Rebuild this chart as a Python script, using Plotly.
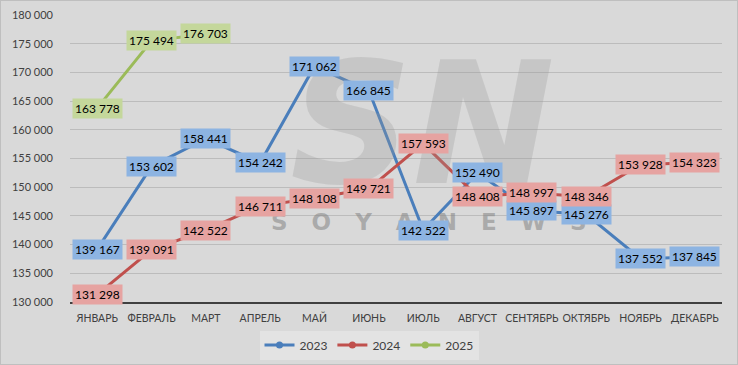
import plotly.graph_objects as go

months = ["ЯНВАРЬ", "ФЕВРАЛЬ", "МАРТ", "АПРЕЛЬ", "МАЙ", "ИЮНЬ", "ИЮЛЬ",
          "АВГУСТ", "СЕНТЯБРЬ", "ОКТЯБРЬ", "НОЯБРЬ", "ДЕКАБРЬ"]
v2023 = [139167, 153602, 158441, 154242, 171062, 166845, 142522,
         152490, 145897, 145276, 137552, 137845]
v2024 = [131298, 139091, 142522, 146711, 148108, 149721, 157593,
         148408, 148997, 148346, 153928, 154323]
v2025 = [163778, 175494, 176703]

series = [
    ("2023", v2023, "#4a7ebb", "#8db4e2"),
    ("2024", v2024, "#c0504d", "#e6a3a1"),
    ("2025", v2025, "#9bbb59", "#c4d79b"),
]

FONT = "Lato, 'Open Sans', sans-serif"

fig = go.Figure()
annotations = []

# watermark
annotations.append(dict(xref="paper", yref="paper", x=0.54, y=0.62, text="<i><b>SN</b></i>",
                        showarrow=False, font=dict(size=170, color="rgba(150,150,150,0.28)",
                                                   family="DejaVu Sans"),
                        xanchor="center", yanchor="middle"))
annotations.append(dict(xref="paper", yref="paper", x=0.55, y=0.28,
                        text="S   O   Y   A   N   E   W   S", showarrow=False,
                        font=dict(size=23, color="rgba(130,130,130,0.55)", family="DejaVu Sans",
                                  weight="bold"),
                        xanchor="center", yanchor="middle"))

for name, vals, col, lab in series:
    x = months[:len(vals)]
    fig.add_trace(go.Scatter(
        x=x, y=vals, name=name, mode="lines+markers",
        line=dict(color=col, width=3),
        marker=dict(color=col, size=14),
        hoverinfo="skip", showlegend=False,
    ))
    for xi, yi in zip(x, vals):
        annotations.append(dict(
            x=xi, y=yi, text=f"{yi:,}".replace(",", " "), showarrow=False,
            bgcolor=lab, borderpad=2,
            font=dict(size=12, color="#000000", family=FONT),
            xanchor="center", yanchor="middle",
        ))

# legend-only entries with small markers
for name, vals, col, lab in series:
    fig.add_trace(go.Scatter(
        x=[None], y=[None], name=name, mode="lines+markers",
        line=dict(color=col, width=3), marker=dict(color=col, size=7),
        hoverinfo="skip", showlegend=True,
    ))

fig.update_layout(
    width=738, height=365,
    margin=dict(l=70, r=16, t=15, b=63, autoexpand=False),
    paper_bgcolor="#d9d9d9", plot_bgcolor="#d9d9d9",
    separators=". ",
    font=dict(family=FONT, size=11, color="#595959"),
    showlegend=True,
    legend=dict(orientation="h", x=0.4586, xanchor="center", y=-0.15, yanchor="middle",
                bgcolor="#e3e3e3", font=dict(size=12, color="#404040"),
                itemwidth=30, tracegroupgap=0),
    annotations=annotations,
    xaxis=dict(type="category", range=[-0.5, len(months) - 0.5],
               showgrid=False, showline=True, linecolor="#404040",
               linewidth=2, ticks="", tickangle=0, automargin=False,
               ticklabelstandoff=5,
               tickfont=dict(size=10.5, color="#404040"),
               zeroline=False),
    yaxis=dict(range=[130000, 180000], dtick=5000, tickformat=",d",
               showgrid=True, gridcolor="#bcbcbc", gridwidth=1, zeroline=False,
               showline=False, ticks="", ticklabelstandoff=16, automargin=False,
               tickfont=dict(size=11, color="#404040")),
    shapes=[dict(type="rect", xref="paper", yref="paper", x0=-70/652, x1=1+16/652,
                 y0=-63/287, y1=1+15/287, line=dict(color="#bfbfbf", width=2),
                 layer="below")],
)

fig.write_html("out.html", config={"displayModeBar": False},
               post_script="document.body.style.margin='0';")
